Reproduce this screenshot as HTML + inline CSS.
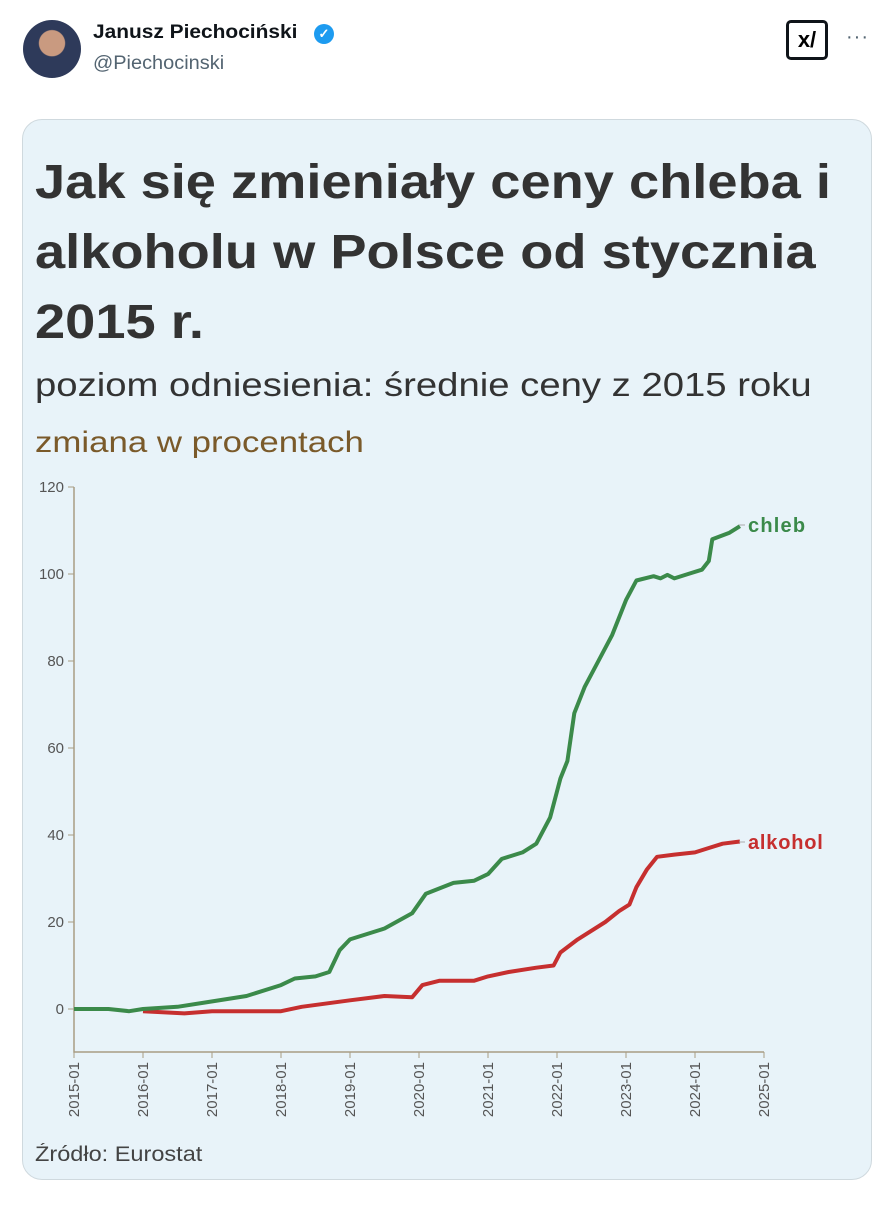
<!DOCTYPE html>
<html><head><meta charset="utf-8"><style>
body{margin:0;width:896px;height:1206px;background:#fff;font-family:"Liberation Sans",sans-serif;position:relative;overflow:hidden}
.abs{position:absolute}
.sx{transform-origin:0 0;white-space:nowrap}
</style></head><body>
<div class="abs" style="left:23px;top:20px;width:58px;height:58px;border-radius:50%;background:radial-gradient(circle at 50% 40%,#c99a80 0 28%,#2e3a5a 30% 100%)"></div>
<div class="abs sx" style="left:93px;top:22px;font-weight:bold;font-size:19px;color:#0f1419;transform:scaleX(1.1)">Janusz Piechociński</div>
<div class="abs" style="left:314px;top:24px;width:20px;height:20px;border-radius:50%;background:#1d9bf0;color:#fff;font-size:13px;text-align:center;line-height:20px;font-weight:bold">✓</div>
<div class="abs sx" style="left:93px;top:53px;font-size:19px;color:#536471;transform:scaleX(1.05)">@Piechocinski</div>
<div class="abs" style="left:786px;top:20px;width:42px;height:40px;border:3px solid #0f1419;border-radius:5px;box-sizing:border-box;font-size:22px;font-weight:bold;text-align:center;line-height:34px">x/</div>
<div class="abs" style="left:846px;top:26px;font-size:20px;color:#536471;letter-spacing:1px">···</div>
<div class="abs" style="left:22px;top:119px;width:850px;height:1061px;background:#e8f3f9;border:1px solid #cfd9de;border-radius:20px;box-sizing:border-box"></div>
<div class="abs sx" style="left:35px;top:148px;font-weight:bold;font-size:48px;line-height:70px;color:#333;transform:scaleX(1.13)">Jak się zmieniały ceny chleba i<br>alkoholu w Polsce od stycznia<br>2015 r.</div>
<div class="abs sx" style="left:35px;top:366px;font-size:33px;color:#333;transform:scaleX(1.16)">poziom odniesienia: średnie ceny z 2015 roku</div>
<div class="abs sx" style="left:35px;top:426px;font-size:30px;color:#7a5a2a;transform:scaleX(1.16)">zmiana w procentach</div>
<div class="abs sx" style="left:35px;top:1143px;font-size:21px;color:#444;transform:scaleX(1.12)">Źródło: Eurostat</div>
<svg class="abs" style="left:0;top:0" width="896" height="1206" id="s">
<g stroke="#a89c84" stroke-width="1.5" fill="none">
<path d="M74 487V1052H764"/>
</g>
<g id="t" font-family="Liberation Sans,sans-serif" font-size="15" fill="#555"></g>
<path id="r" fill="none" stroke="#c62f2f" stroke-width="4" stroke-linejoin="round"/>
<path id="g" fill="none" stroke="#3b8a4a" stroke-width="4" stroke-linejoin="round"/>
<line x1="739" y1="525" x2="745" y2="525" stroke="#aaa"/>
<line x1="739" y1="842" x2="745" y2="842" stroke="#aaa"/>
<text x="748" y="532" font-size="20" font-weight="bold" fill="#3b8a4a" font-family="Liberation Sans,sans-serif" letter-spacing="1.2">chleb</text>
<text x="748" y="849" font-size="20" font-weight="bold" fill="#c62f2f" font-family="Liberation Sans,sans-serif" letter-spacing="0.8">alkohol</text>
</svg>
<script>
var X=t=>74+69*(t-2015),Y=v=>1009-v*4.35;
var g=[[2015,0],[2015.5,0],[2015.8,-.5],[2016,0],[2016.5,.5],[2016.9,1.5],[2017.5,3],[2018,5.5],[2018.2,7],[2018.5,7.5],[2018.7,8.5],[2018.85,13.5],[2019,16],[2019.5,18.5],[2019.9,22],[2020.1,26.5],[2020.5,29],[2020.8,29.5],[2021,31],[2021.2,34.5],[2021.5,36],[2021.7,38],[2021.9,44],[2022.05,53],[2022.15,57],[2022.25,68],[2022.4,74],[2022.6,80],[2022.8,86],[2023,94],[2023.15,98.5],[2023.4,99.5],[2023.5,99],[2023.6,99.8],[2023.7,99],[2023.9,100],[2024.1,101],[2024.2,103],[2024.25,108],[2024.5,109.5],[2024.65,111]];
var r=[[2016,-.5],[2016.6,-1],[2017,-.5],[2018,-.5],[2018.3,.5],[2019,2],[2019.5,3],[2019.9,2.7],[2020.05,5.5],[2020.3,6.5],[2020.8,6.5],[2021,7.5],[2021.3,8.5],[2021.7,9.5],[2021.95,10],[2022.05,13],[2022.3,16],[2022.7,20],[2022.9,22.5],[2023.05,24],[2023.15,28],[2023.3,32],[2023.45,35],[2023.7,35.5],[2024,36],[2024.2,37],[2024.4,38],[2024.65,38.5]];
function p(a){return a.map((q,i)=>(i?'L':'M')+X(q[0]).toFixed(1)+' '+Y(q[1]).toFixed(1)).join('')}
document.getElementById('g').setAttribute('d',p(g));
document.getElementById('r').setAttribute('d',p(r));
var t=document.getElementById('t'),h='';
for(var v=0;v<=120;v+=20){var y=Y(v);h+='<line x1="68" x2="74" y1="'+y+'" y2="'+y+'" stroke="#a89c84"/><text x="64" y="'+(y+5)+'" text-anchor="end">'+v+'</text>';}
for(var k=2015;k<=2025;k++){var x=X(k);h+='<line x1="'+x+'" x2="'+x+'" y1="1052" y2="1058" stroke="#a89c84"/><text transform="translate('+(x+5)+',1062) rotate(-90)" text-anchor="end">'+k+'-01</text>';}
t.innerHTML=h;
</script>
</body></html>
